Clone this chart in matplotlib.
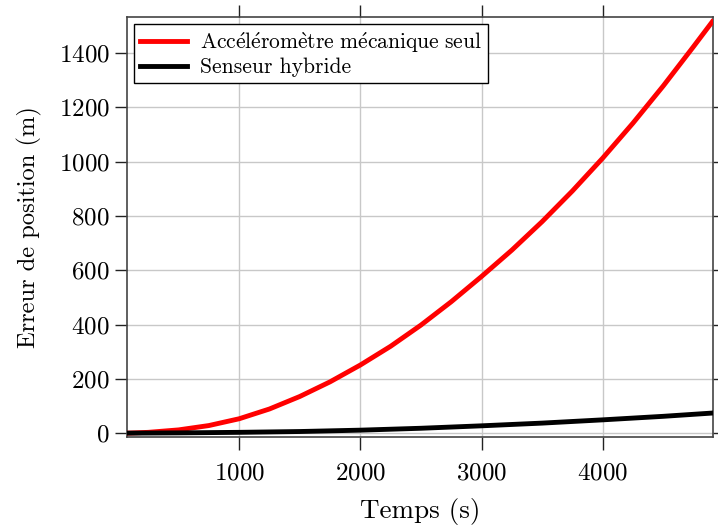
import matplotlib
matplotlib.use("Agg")
import matplotlib.pyplot as plt

plt.rcParams["font.family"] = ["cmr10", "DejaVu Serif"]
plt.rcParams["mathtext.fontset"] = "cm"
plt.rcParams["axes.formatter.use_mathtext"] = True

# values
t_meca = [75, 250, 500, 750, 1000, 1250, 1500, 1750, 2000, 2250, 2500,
          2750, 3000, 3250, 3500, 3750, 4000, 4250, 4500, 4750, 4904]
err_meca = [0, 3, 12, 28, 53, 89, 135, 189, 251, 320, 398,
            484, 577, 674, 779, 892, 1013, 1142, 1279, 1424, 1515]
t_hyb = [75, 500, 1000, 1500, 2000, 2500, 3000, 3500, 4000, 4500, 4904]
err_hyb = [0, 1, 3, 6, 11, 18, 27, 37, 49, 62, 74]

lbl_meca = r"$\mathrm{Acc\acute{e}l\acute{e}rom\grave{e}tre\ m\acute{e}canique\ seul}$"
lbl_hyb = "Senseur hybride"

fig = plt.figure(figsize=(7.18, 5.29), dpi=100)
ax = fig.add_axes([0.177, 0.174, 0.816, 0.793])

ax.plot(t_meca, err_meca, color="#ff0000", linewidth=3.5, label=lbl_meca, zorder=3)
ax.plot(t_hyb, err_hyb, color="black", linewidth=3.5, label=lbl_hyb, zorder=4)

ax.set_xlim(75, 4910)
ax.set_ylim(-14, 1531)
ax.set_xticks([1000, 2000, 3000, 4000])
ax.set_yticks(range(0, 1401, 200))

ax.grid(True, color="#c8c8c8", linewidth=1)
ax.set_axisbelow(True)
for s in ax.spines.values():
    s.set_color("#444444")
    s.set_linewidth(1.2)

ax.tick_params(direction="out", length=9, width=1, top=True, right=True,
               labelsize=18, color="#222222")
ax.tick_params(axis="x", pad=9)
ax.set_xlabel("Temps (s)", fontsize=19.5, labelpad=10)
ax.set_ylabel("Erreur de position (m)", fontsize=17.6, labelpad=12)

leg = ax.legend(loc="upper left", fontsize=15.5, fancybox=False, framealpha=1,
                edgecolor="black", borderaxespad=0.3, handlelength=2.2,
                borderpad=0.28, labelspacing=0.14, handletextpad=0.6)
leg.get_frame().set_linewidth(1)

fig.savefig("out.png", dpi=100)
